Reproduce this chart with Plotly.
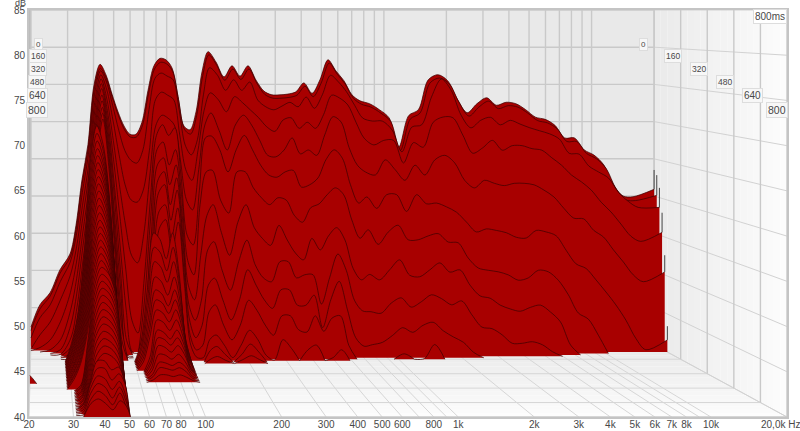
import math
import plotly.graph_objects as go

# ---------- data ----------
FREQ_HZ = [20,22.1,24.7,27.6,30.8,32.9,35.2,37.6,40.2,
 43,45.9,49.1,52.5,56.1,59.9,64,68.4,73.2,78.2,83.6,89.3,95.5,102,109,116.6,
 124.6,133.2,142.4,155.5,170,185.7,202.9,221.7,242,264.4,289,316,345,377,412,451,492,538,588,642,702,767,854,951,1060,1180,1316,1466,1633,1820,2028,2260,2518,2805,3125,3482,3880,4323,4817,5367,5980,6663,7424,8272,9216,10270,11440,12750,14200,15830,20000]

DB_T000 = [42.4,45.4,47,50.1,52.2,56,62.2,66.9,74.9,
 77.7,76.3,73.7,71.3,69.4,68.3,68.3,69.9,74.2,77.5,78.5,78.3,77.2,73.4,69.4,68.9,
 71.3,76.7,79.4,78,76,77.5,76.1,77.5,75.6,74.1,73.6,73.6,73.7,74,75.2,73.8,75.6,78.3,76.8,75.5,73.6,72.8,72.4,71.6,70.5,66.6,70.8,71.6,75.6,76.3,75.5,73,71.2,72.4,73.2,72.2,72.6,72.4,71.6,70.6,70.3,69.5,67.8,67.8,66.2,65.5,64.2,61.5,60,59.9,60.9]
DB_T016 = [42.1,45.0,46.7,49.8,51.9,55.6,61.8,66.4,74.4,
 77.2,75.9,73.3,70.9,69.0,68.0,68.0,69.5,73.8,77.1,78.0,77.8,76.8,73.0,69.0,68.4,
 70.9,76.2,79.0,77.6,75.6,77.1,75.7,77.1,75.2,73.7,73.2,73.2,73.3,73.6,74.8,73.4,75.2,77.9,76.4,75.1,73.2,72.4,72.0,71.2,70.1,66.2,70.4,71.2,75.2,75.9,75.1,72.6,70.8,72.0,72.8,71.8,72.2,72.0,71.2,70.2,69.9,69.1,67.4,67.4,65.8,65.1,63.8,61.1,59.6,59.5,60.2]
DB_T032 = [41.3,44.0,45.7,48.8,51.4,54.9,60.7,65.7,73.7,
 76.9,75.4,72.3,69,66.3,65,64.6,66.3,71.7,75.9,76.6,76.2,75.7,71.7,67,65.7,
 67.7,73.7,77.3,76.3,74.3,75.7,74.3,75.4,73,72.1,71.7,72.2,72.7,72.1,73.4,71.9,73.7,76.3,75.4,74.1,72.3,70.6,70.2,70.2,69,66.1,69.4,69.7,73.4,75.8,74.3,71,69.3,70.3,70.7,69.7,70.3,69.8,69.3,68.9,68.5,67.8,65.9,65.8,64.2,63.4,62.6,60.7,59.5,58.7,58.7]
DB_T048 = [40,41.9,43.6,46.5,49.8,53.4,59.1,64.4,72.7,
 76.4,74.4,70.4,65.8,61.8,59.8,59.5,61.1,66.4,73.1,74.1,73.7,73.1,68.4,63.8,62.4,
 66.4,71.7,74,73.1,71.5,73.5,72.7,71.7,70.7,69.5,68.9,70.4,70.7,69.3,70.1,69.3,71.1,73.7,73.3,72.4,70.1,68,67.1,67.7,67.7,64.7,67.4,66.8,70.1,70.8,70.7,68.4,66,66.7,67.7,66.4,67,67,66.6,66.4,65.4,64.4,63.1,62.2,61.1,59.5,58.2,56.6,55,54.3,55.5]
DB_T064 = [40,40.4,41.4,43.8,47.7,51.7,57.5,63.2,71.8,
 75.9,73.1,67.8,61.9,56.6,52.6,51.6,55.3,63.2,69.8,71.1,70.7,69.8,65.2,59.9,58.6,
 63.9,69.8,71.4,69.1,66.5,69.8,71.1,69.8,67.8,65.8,65.6,66.5,68.1,66,66.5,65.8,68.5,70.9,70.2,66.8,64.5,63.6,63.2,65.2,63.9,62.5,64.5,63.2,65.2,65.8,64.8,62.5,61.5,62.5,62.1,61.8,62.1,62.1,61.9,61.2,60.3,58.8,57.5,57.4,55.9,55,53.3,51.7,50,49.1,50.4]
DB_T080 = [40,40,40.3,41.6,45.5,49.7,55.8,61.7,70.8,
 75.3,71.8,65.3,58,50.8,44.2,42.5,49.5,60,68.5,69.9,68.5,69.5,63.3,55.4,54.1,
 61.3,68.2,68.4,66.6,63.7,66.6,68.5,66.6,64.6,63.3,63,63.7,63.9,61.7,62,62.9,65.3,66.6,65.5,62,59.6,60.4,58.9,60.7,60.7,58.5,60.7,59.5,59.6,59.1,58.4,57.1,55.8,56.2,56,55.7,55.1,55,56,55.8,55.3,53.4,51.6,51,49.5,47.9,46.2,44.2,41.8,40.3,41.6]
DB_T096 = [40,40,40,40.5,43.7,47.9,54.2,60.4,69.9,
 74.7,70.6,62.7,54.2,45.7,40.2,40,47,58.1,66.7,67.7,64.7,66.7,60.8,52.2,50.3,
 59.5,63.8,64,60.1,58.4,63.8,63.8,61.7,60.4,59.5,60.4,60.1,58.1,57.2,59.1,59.6,60.8,61.7,60.8,57.5,55.1,56.2,54.3,55.9,56.8,54.9,54.9,55.4,55.7,54.6,54.5,52.5,51.2,50.9,50.7,50.3,49.6,49.9,50.9,50.7,49.6,47.7,45.3,44.5,42.4]
DB_T112 = [40,40,40,40.1,42.2,46.2,52.6,58.9,69.1,
 73.9,69.3,60.9,51.1,41.9,40,40,44.5,55.6,64.8,65.7,62.2,64.8,58.2,49.1,47.2,
 53,58.2,59.6,56,53,57.3,59.6,56.6,55.2,54.3,56.9,55,53.3,52.4,55.2,53.7,55.5,56.6,55,51.3,49.8,50.5,49.8,51.1,52.4,50.4,50.2,51.1,52,50.8,51.1,49.1,47.7,47.4,46.5,46,45.7,46.2,46.5,45.6,44.3,41.3]
DB_T128 = [40,40,40,40,41.2,44.7,51.2,57.7,68.1,
 73.2,68.1,58.4,48.6,40.2,40,40,42.8,53.8,62.9,64,59.7,63.2,55.8,46.7,44.7,
 47.3,53.8,54.9,51.2,48.6,52.3,55.1,51.9,50.2,49.7,52.3,52.3,50.2,50.6,50.6,46.8,50.2,53.3,51.2,47.3,45.9,45.8,45.6,46.9,47.6,46.4,47.1,48,47.5,46.7,47.2,45.4,43.8,43.6,42.8,41.7,41.7,41.9,41.5,40.6]
DB_T144 = [40,40,40,40,40.6,43.3,49.8,56.3,67.1,
 72.4,66.9,56.5,46.2,40.1,40,40,41.7,52,61.3,62.4,57.8,61.7,53.9,44.9,42.6,
 44.2,49.4,50.3,47.5,44.9,47.5,51.4,49.4,47.5,46.4,48.8,48.8,46.8,46.8,48.1,43.9,47.5,49.9,46.2,42.6,41.5,41.7,42,42.9,43.9,43.3,44.2,44.6,43.5,42.7,42,40.7]
DB_T160 = [40,40,40,40,40.1,42.2,48.3,54.8,66.2,
 71.7,65.7,54.7,44.4,40,40,40,40.5,50.2,59,59.9,55.6,59.5,51.5,43.1,41.2,
 41.8,46.1,47,44.4,42.5,44.4,47.6,46.3,44.4,43.1,45.6,45.6,43.8,43.5,45.6,43.6,45.3,45.6,41.8,40,40,40,40,40,40.7,40,40.1,41.9,40]
DB_T176 = [40,40,40,40,40,41.1,46.8,53.6,65.2,
 71,64.5,52.9,42.7,40,40,40,40,48.4,57,58.1,54,57.8,49.7,42,40.4,
 40.4,42.7,43.3,42,40.4,42,43.9,42.7,40.7,40.1,42.7,41.6,40,41.4,42,40,40.4,41.4,40]

SLICE_MS = [0,16,32,48,64,80,96,112,128,144,160,176]
SLICE_DB = [DB_T000,DB_T016,DB_T032,DB_T048,DB_T064,DB_T080,DB_T096,DB_T112,DB_T128,DB_T144,DB_T160,DB_T176]
SPIKE_TOP_DB = [63.5,62.9,61.3,58.1,52.6,43.4]

# long-decay modes, later time slices
MODE40_HZ = [28.8,30.8,32.9,35.2,37.6,40.2,43,45.9,48.6,50.5]
MODE40_MS = list(range(192,801,16))
MODE40_DB = [
 [40,42.4,46,53.6,65.7,70.2,67.8,61.1,50.6,40],
 [40,42.3,45.9,53.2,64.9,69.3,67,60.5,50.3,40],
 [40,42.3,45.7,52.8,64.1,68.4,66.1,59.9,49.9,40],
 [40,42.2,45.5,52.4,63.4,67.5,65.3,59.3,49.6,40],
 [40,42.1,45.3,52,62.7,66.7,64.6,58.7,49.3,40],
 [40,42.1,45.2,51.7,62,65.9,63.8,58.1,49.1,40],
 [40,42,45,51.3,61.3,65.1,63.1,57.6,48.8,40],
 [40,41.9,44.9,50.9,60.7,64.3,62.4,57,48.5,40],
 [40,41.9,44.7,50.6,60,63.5,61.6,56.5,48.2,40],
 [40,41.8,44.5,50.2,59.3,62.7,60.9,55.9,47.9,40],
 [40,41.8,44.4,49.9,58.6,61.9,60.1,55.3,47.7,40],
 [40,41.7,44.2,49.5,57.9,61.1,59.4,54.8,47.4,40],
 [40,41.6,44.1,49.1,57.3,60.3,58.7,54.2,47.1,40],
 [40,41.6,43.9,48.8,56.6,59.5,57.9,53.7,46.8,40],
 [40,41.5,43.8,48.5,56,58.8,57.3,53.2,46.6,40],
 [40,41.4,43.6,48.1,55.4,58.1,56.7,52.7,46.3,40],
 [40,41.4,43.5,47.8,54.8,57.4,56,52.2,46.1,40],
 [40,41.3,43.3,47.5,54.2,56.7,55.4,51.7,45.8,40],
 [40,41.3,43.2,47.2,53.6,56,54.7,51.2,45.6,40],
 [40,41.2,43.1,46.9,53,55.3,54.1,50.7,45.4,40],
 [40,40,40.7,45.8,52.4,54.6,53.9,51.7,45.8,40],
 [40,40,40.7,45.6,51.8,53.9,53.2,51.1,45.6,40],
 [40,40,40.7,45.3,51.2,53.2,52.5,50.6,45.3,40],
 [40,40,40.6,45,50.6,52.5,51.9,50,45,40],
 [40,40,40.6,44.7,50,51.8,51.2,49.4,44.7,40],
 [40,40,40.6,44.4,49.4,51.1,50.5,48.9,44.4,40],
 [40,40,40.5,44.2,48.8,50.4,49.9,48.3,44.2,40],
 [40,40,40.5,43.9,48.2,49.7,49.2,47.8,43.9,40],
 [40,40,40.5,43.6,47.7,49,48.6,47.2,43.6,40],
 [40,40,40.4,43.3,47.1,48.3,47.9,46.6,43.3,40],
 [40,40,40.4,43,46.5,47.6,47.2,46.1,43,40],
 [40,40,40.3,42.8,45.9,46.9,46.6,45.5,42.8,40],
 [40,40,40.3,42.5,45.3,46.2,45.9,45,42.5,40],
 [40,40,40.5,43,45.5,45.5,44.5,44.8,43,40],
 [40,40,40.4,43,44.8,44.8,43.5,44.2,43,40],
 [40,40,40.3,42.7,44.1,43.8,42.6,43.5,42,40],
 [40,40,40.2,42.3,43.4,43,41.8,43,41.5,40],
 [40,40,40.1,41.8,42.7,42.2,41.2,42.5,41,40],
 [40,40,40,41.5,42,41.5,40.8,41.8,41.2,40],
]
MODE70_HZ = [59.9,64,68.4,73.2,78.2,83.6,89.3,95.5,102,109]
MODE70_MS = list(range(192,417,16))
MODE70_DB = [
 [40,42.5,49.1,56.5,55.7,53.2,56.5,51.6,43.3,40],
 [40,42.2,48.1,54.8,54.1,51.8,54.8,50.4,43,40],
 [40,42,47.2,53.1,52.4,50.5,53.1,49.2,42.6,40],
 [40,41.7,46.2,51.3,50.7,49,51.3,47.9,42.3,40],
 [40,41.5,45.4,49.8,49.3,47.8,49.8,46.9,42,40],
 [40,41.3,44.8,48.7,48.3,47,48.7,46.1,41.7,40],
 [40,41.1,44.2,47.6,47.2,46.1,47.6,45.3,41.5,40],
 [40,40,42,46.5,46.2,45.2,46.5,44.5,41.3,40],
 [40,40,41.6,45.4,45.1,44.3,45.4,43.8,41,40],
 [40,40,41.4,44.6,44.4,43.7,44.6,43.2,40.9,40],
 [40,40,41.1,43.8,43.6,43,43.8,42.7,40.8,40],
 [40,40,40.9,42.9,42.8,42.3,42.9,42,40.6,40],
 [40,40,40.6,42.1,42,41.7,42.1,41.5,40.4,40],
 [40,40,40.5,41.6,41.5,41.3,41.6,41.1,40.3,40],
 [40,40,40.3,40.9,40.9,40.7,40.9,40.6,40.2,40],
]
MODE100_HZ = [124.6,133.2,142.4,155.5,170,185.7,202.9,221.7,242]
MODE100_MS = [192,208]
MODE100_DB = [[40,41.5,42,41,40,41,42.3,41.3,40],[40,40.6,40.9,40.4,40,40.5,41,40.5,40]]
MODE20_HZ = [20,20.6,21.4]
MODE20_MS = [432]
MODE20_DB = [[41,40.6,40]]

X_TICKS = [20,30,40,50,60,70,80,100,200,300,400,500,600,800,1000,2000,3000,4000,5000,6000,7000,8000,10000]
X_TEXT = ["20","30","40","50","60","70","80","100","200","300","400","500","600","800","1k","2k","3k","4k","5k","6k","7k","8k","10k"]
GRID_HZ = [20,30,40,50,60,70,80,90,100,200,300,400,500,600,700,800,900,1000,2000,3000,4000,5000,6000,7000,8000,9000,10000,20000]
DB_TICKS = [40,45,50,55,60,65,70,75,80,85]
TIME_TICKS = [0,160,320,480,640,800]

# ---------- perspective: every point is mapped to the front plane's axes ----------
K0, K1 = 7.44, 9.044
S0, S1 = 207.7, 252.67
def proj(f, t, db):
    a = t / 800.0
    u = math.log10(f / 20.0)
    xpx = (2 * (1 - a)) + (S0 + (S1 - S0) * a) * u
    k = K0 + (K1 - K0) * a
    return 20 * 10 ** (xpx / S1), 85 - (85 - db) * k / K1

fig = go.Figure()
def add(xs, ys, **kw):
    kw.setdefault("mode", "lines")
    fig.add_trace(go.Scatter(x=xs, y=ys, hoverinfo="skip", showlegend=False, **kw))

def poly(pts, color):
    xs = [p[0] for p in pts]; ys = [p[1] for p in pts]
    add(xs + xs[:1], ys + ys[:1], fill="toself", fillcolor=color, line=dict(width=0))

def lerp_gray(a, lo, hi):
    g = int(lo + (hi - lo) * a)
    return f"rgb({g},{g},{g})"

# walls
poly([proj(20,0,85), proj(20000,0,85), proj(20000,0,40), proj(20,0,40)], "#e9e9e9")
N = 20
for i in range(N):
    t0, t1 = 800*i/N, 800*(i+1)/N
    poly([proj(20000,t0,85), proj(20000,t1,85), proj(20000,t1,40), proj(20000,t0,40)], lerp_gray(i/(N-1), 235, 252))
    poly([proj(20,t0,40), proj(20000,t0,40), proj(20000,t1,40), proj(20,t1,40)], lerp_gray(i/(N-1), 233, 253))
poly([proj(20,0,85), proj(20,800,85), proj(20,800,40), proj(20,0,40)], "#bcbcbc")

GRID = dict(color="#c9c9c9", width=1.4)
FLOOR = dict(color="#d6d6d6", width=1)
for f in GRID_HZ:
    a = proj(f,0,85); b = proj(f,0,40); c = proj(f,800,40)
    add([a[0],b[0]], [a[1],b[1]], line=GRID)
    add([b[0],c[0]], [b[1],c[1]], line=FLOOR)
for d in DB_TICKS:
    a = proj(20,0,d); b = proj(20000,0,d); c = proj(20000,800,d)
    add([a[0],b[0]], [a[1],b[1]], line=GRID)
    add([b[0],c[0]], [b[1],c[1]], line=dict(color="#d2d2d2", width=1))
for t in TIME_TICKS:
    a = proj(20,t,40); b = proj(20000,t,40); c = proj(20000,t,85)
    add([a[0],b[0]], [a[1],b[1]], line=FLOOR if t < 800 else GRID)
    add([b[0],c[0]], [b[1],c[1]], line=GRID)

# ---------- waterfall ----------
RED = "#a80000"
LINE = dict(color="rgba(60,0,0,0.72)", width=1, shape="spline", smoothing=0.9)
def draw_slice(t, hz, dbs):
    vals = list(dbs) + [40] * (len(hz) - len(dbs))
    i, n = 0, len(hz)
    while i < n:
        if vals[i] <= 40.0:
            i += 1
            continue
        j = i
        while j + 1 < n and vals[j + 1] > 40.0:
            j += 1
        lo, hi = max(i - 1, 0), min(j + 1, n - 1)
        pts = [proj(hz[m], t, vals[m]) for m in range(lo, hi + 1)]
        base = [proj(hz[m], t, 40) for m in range(lo, hi + 1)]
        add([p[0] for p in base], [p[1] for p in base], line=dict(width=0, color=RED))
        add([p[0] for p in pts], [p[1] for p in pts], fill="tonexty", fillcolor=RED, line=LINE)
        i = j + 1

for t, d in zip(SLICE_MS, SLICE_DB):
    draw_slice(t, FREQ_HZ, d)
    idx = SLICE_MS.index(t)
    if idx < len(SPIKE_TOP_DB):
        a = proj(20000, t, d[-1]); b = proj(20000, t, SPIKE_TOP_DB[idx])
        add([a[0],b[0]], [a[1],b[1]], line=dict(color="#444444", width=1))
for t, d in zip(MODE100_MS, MODE100_DB):
    draw_slice(t, MODE100_HZ, d)
for t, d in zip(MODE20_MS, MODE20_DB):
    draw_slice(t, MODE20_HZ, d)
late = {}
for t, d in zip(MODE70_MS, MODE70_DB):
    late.setdefault(t, []).append((MODE70_HZ, d))
for t, d in zip(MODE40_MS, MODE40_DB):
    late.setdefault(t, []).append((MODE40_HZ, d))
for t in sorted(late):
    for hz, d in late[t]:
        draw_slice(t, hz, d)

# ---------- labels ----------
ann = []
TXT = "#484848"
def label(px, py, text, size=9, box=True, bg="#f7f7f7"):
    d = dict(x=px/800.0, y=(431-py)/431.0, xref="paper", yref="paper", text=text, showarrow=False,
             font=dict(family="Liberation Sans, Arial", size=size, color=TXT), xanchor="center", yanchor="middle")
    if box:
        d.update(bgcolor=bg, bordercolor="#dddddd", borderwidth=1, borderpad=1)
    ann.append(d)

LEFT_POS = [(38,44,8),(38,56,8.5),(38,69,8.5),(37,82,8.5),(37,95,10),(37,110,10.5)]
RIGHT_POS = [(643,44,8),(673,56,8.5),(699,69,8.5),(725,82,8.5),(752,95,10),(777,110,10.5)]
for t, (x, y, s) in zip(TIME_TICKS, LEFT_POS):
    label(x, y, str(t), s)
for t, (x, y, s) in zip(TIME_TICKS, RIGHT_POS):
    label(x, y, str(t), s)
label(770, 17, "800ms", 10, bg="#ffffff")
label(20, 3, "dB", 9, box=False)
label(780, 424, "20,0k Hz", 10, box=False)

fig.update_layout(
    width=800, height=431, margin=dict(l=0, r=0, t=0, b=0, pad=0, autoexpand=False),
    paper_bgcolor="#ffffff", plot_bgcolor="#ffffff", showlegend=False, annotations=ann,
    xaxis=dict(type="log", domain=[29/800, 787/800], range=[math.log10(20), math.log10(20000)], tickvals=X_TICKS, ticktext=X_TEXT,
               showgrid=False, zeroline=False, ticks="", showline=True, linecolor="#c4c4c4", linewidth=2, mirror=True,
               ticklabelstandoff=-3,
               tickfont=dict(family="Liberation Sans, Arial", size=10, color=TXT)),
    yaxis=dict(range=[40, 85], domain=[14/431, 421/431], tickvals=DB_TICKS, showgrid=False, zeroline=False, ticks="",
               showline=True, linecolor="#c4c4c4", linewidth=2, mirror=True,
               tickfont=dict(family="Liberation Sans, Arial", size=10, color=TXT)),
)
fig.write_html("out.html", post_script="document.body.style.margin='0';", config={"displayModeBar": False})
